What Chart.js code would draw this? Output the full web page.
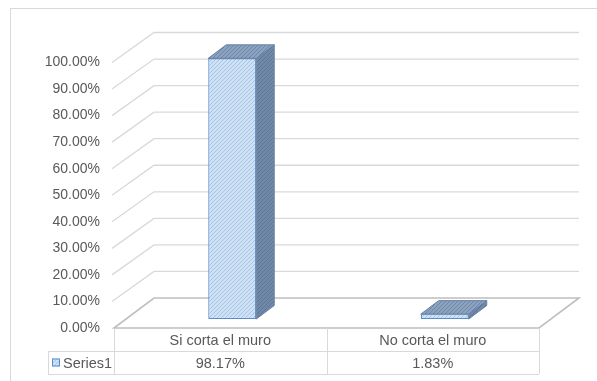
<!DOCTYPE html>
<html>
<head>
<meta charset="utf-8">
<script src="https://cdn.jsdelivr.net/npm/chart.js@4/dist/chart.umd.min.js"></script>
<style>
  html, body { margin: 0; padding: 0; background: #ffffff; }
  #wrap { width: 597px; height: 381px; position: relative; }
</style>
</head>
<body>
<div id="wrap"><canvas id="c" width="597" height="381"></canvas></div>
<script>
// Categories, series and axis range
const categories = ['Si corta el muro', 'No corta el muro'];
const seriesName = 'Series1';
const seriesValues = [98.17, 1.83];
const yMin = 0;
const yMax = 100;
const yStep = 10;

// Oblique projection of the 3D box: offset of the back wall relative to the front plane
const DEPTH_DX = 40;
const DEPTH_DY = -30;
const BAR_FRONT = 0.3;   // depth fraction where the bar front face sits
const BAR_DEPTH = 0.45;  // depth fraction taken by the bar itself

const FONT = 'Liberation Sans';
const TEXT_COLOR = '#595959';
const GRID_COLOR = '#d9d9d9';
const FLOOR_COLOR = '#bfbfbf';

function hatch(base, line, size) {
  const c = document.createElement('canvas');
  c.width = size; c.height = size;
  const g = c.getContext('2d');
  g.fillStyle = base;
  g.fillRect(0, 0, size, size);
  g.strokeStyle = line;
  g.lineWidth = 1;
  g.beginPath();
  g.moveTo(0, size); g.lineTo(size, 0);
  g.moveTo(-1, 1); g.lineTo(1, -1);
  g.moveTo(size - 1, size + 1); g.lineTo(size + 1, size - 1);
  g.stroke();
  return g.createPattern(c, 'repeat');
}

const ctx0 = document.getElementById('c').getContext('2d');
const frontFill = hatch('#cfe1f4', '#a6c3e4', 4);
const sideFill = hatch('#7089a8', '#5d7694', 4);
const topFill = hatch('#8ca2be', '#6e87a7', 4);
const BAR_BORDER = '#5b8dcb';

function poly(ctx, pts, fill, stroke, lw) {
  ctx.beginPath();
  ctx.moveTo(pts[0][0], pts[0][1]);
  for (let i = 1; i < pts.length; i++) ctx.lineTo(pts[i][0], pts[i][1]);
  ctx.closePath();
  if (fill) { ctx.fillStyle = fill; ctx.fill(); }
  if (stroke) { ctx.strokeStyle = stroke; ctx.lineWidth = lw || 1; ctx.stroke(); }
}

// Walls, floor and the 3D faces of each column
const box3d = {
  id: 'box3d',
  beforeDatasetsDraw(chart) {
    const { ctx, chartArea: { left, right, bottom } } = chart;
    const y = chart.scales.y;
    ctx.save();
    ctx.strokeStyle = GRID_COLOR;
    ctx.lineWidth = 1.3;
    for (let v = yMin + yStep; v <= yMax + 1e-9; v += yStep) {
      const py = y.getPixelForValue(v);
      ctx.beginPath();
      ctx.moveTo(left - 2, py);
      ctx.lineTo(left + DEPTH_DX, py + DEPTH_DY);
      ctx.lineTo(right + DEPTH_DX, py + DEPTH_DY);
      ctx.stroke();
    }
    ctx.restore();
    // floor
    const fy = y.getPixelForValue(yMin);
    ctx.save();
    poly(ctx, [[left, fy], [left + DEPTH_DX, fy + DEPTH_DY], [right + DEPTH_DX, fy + DEPTH_DY], [right, fy]],
      '#ffffff', FLOOR_COLOR, 1.6);
    ctx.restore();
    // columns sit partway into the depth of the box
    ctx.save();
    ctx.translate(DEPTH_DX * BAR_FRONT, DEPTH_DY * BAR_FRONT);
  },
  afterDatasetsDraw(chart) {
    const { ctx } = chart;
    const bdx = DEPTH_DX * BAR_DEPTH;
    const bdy = DEPTH_DY * BAR_DEPTH;
    chart.getDatasetMeta(0).data.forEach((bar) => {
      const p = bar.getProps(['x', 'y', 'base', 'width'], true);
      const l = p.x - p.width / 2;
      const r = p.x + p.width / 2;
      poly(ctx, [[r, p.y], [r + bdx, p.y + bdy], [r + bdx, p.base + bdy], [r, p.base]], sideFill, '#6a84a6', 1);
      poly(ctx, [[l, p.y], [l + bdx, p.y + bdy], [r + bdx, p.y + bdy], [r, p.y]], topFill, '#5f7fa8', 1);
    });
    ctx.restore();
  },
  afterDraw(chart) {
    const { ctx, chartArea: { left, right, bottom } } = chart;
    const x = chart.scales.x;
    const r0 = bottom;
    const r1 = bottom + 23;
    const r2 = bottom + 46;
    const legendLeft = 48;
    ctx.save();
    ctx.strokeStyle = GRID_COLOR;
    ctx.lineWidth = 1;
    ctx.beginPath();
    ctx.moveTo(legendLeft, r1 + 0.5); ctx.lineTo(right, r1 + 0.5);
    ctx.moveTo(legendLeft, r2 + 0.5); ctx.lineTo(right, r2 + 0.5);
    ctx.moveTo(legendLeft + 0.5, r1); ctx.lineTo(legendLeft + 0.5, r2);
    const edges = [left];
    for (let i = 0; i < categories.length - 1; i++) {
      edges.push((x.getPixelForValue(i) + x.getPixelForValue(i + 1)) / 2);
    }
    edges.push(right);
    edges.forEach((ex) => {
      const px = Math.round(ex) + 0.5;
      ctx.moveTo(px, r0); ctx.lineTo(px, r2);
    });
    ctx.stroke();

    ctx.fillStyle = TEXT_COLOR;
    ctx.font = '14.5px "' + FONT + '"';
    ctx.textAlign = 'center';
    ctx.textBaseline = 'middle';
    categories.forEach((name, i) => {
      const cx = x.getPixelForValue(i);
      ctx.fillText(name, cx, (r0 + r1) / 2 + 1);
      ctx.fillText(seriesValues[i].toFixed(2) + '%', cx, (r1 + r2) / 2 + 1);
    });
    // legend key
    const ky = (r1 + r2) / 2;
    ctx.fillStyle = frontFill;
    ctx.fillRect(52, ky - 4, 8, 8);
    ctx.strokeStyle = BAR_BORDER;
    ctx.strokeRect(52.5, ky - 3.5, 7, 7);
    ctx.fillStyle = TEXT_COLOR;
    ctx.textAlign = 'left';
    ctx.fillText(seriesName, 63, ky + 1);

    // chart frame
    ctx.strokeStyle = GRID_COLOR;
    ctx.lineWidth = 1;
    ctx.strokeRect(10.5, 8.5, 700, 500);
    ctx.restore();
  }
};

new Chart(ctx0, {
  type: 'bar',
  data: {
    labels: categories,
    datasets: [{
      label: seriesName,
      data: seriesValues,
      backgroundColor: frontFill,
      borderColor: BAR_BORDER,
      borderWidth: 1.2,
      borderSkipped: false,
      barPercentage: 0.226,
      categoryPercentage: 1
    }]
  },
  options: {
    responsive: false,
    animation: false,
    devicePixelRatio: 1,
    layout: { padding: { left: 0, top: 62.5, right: 58, bottom: 53 } },
    plugins: { legend: { display: false }, tooltip: { enabled: false } },
    scales: {
      x: { display: false },
      y: {
        min: yMin,
        max: yMax,
        afterFit(scale) { scale.width = 114; },
        grid: { display: false, drawTicks: false },
        border: { display: false },
        ticks: {
          stepSize: yStep,
          padding: 14,
          color: TEXT_COLOR,
          font: { family: FONT, size: 14 },
          callback: (v) => Number(v).toFixed(2) + '%'
        }
      }
    }
  },
  plugins: [box3d]
});
</script>
</body>
</html>
